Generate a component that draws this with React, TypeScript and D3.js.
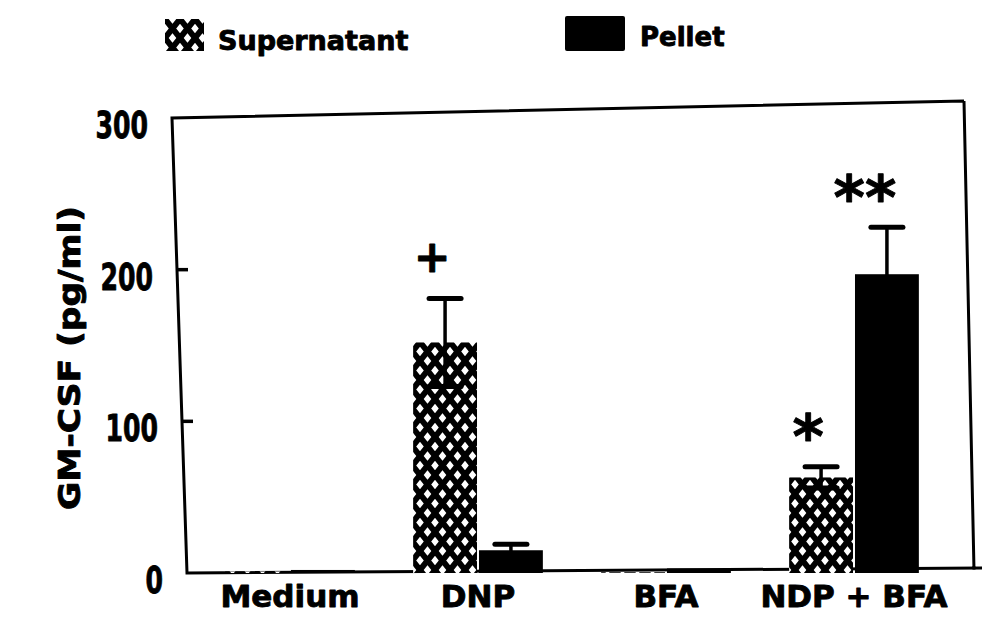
import React, { useEffect, useRef } from "react";
import * as d3 from "d3";

const categories = ["Medium", "DNP", "BFA", "NDP + BFA"];
const seriesNames = ["Supernatant", "Pellet"];
const supernatant = [1, 152, 0.5, 63];
const supernatantErr = [0, 29, 0, 7];
const pellet = [2, 15, 3, 197];
const pelletErr = [0, 4, 0, 31];
const supernatantMarks = ["", "+", "", "*"];
const pelletMarks = ["", "", "", "**"];
const yTicks = [0, 100, 200, 300];

const width = 982;
const height = 626;
const FONT = "'DejaVu Sans', sans-serif";

export default function App() {
  const svgRef = useRef<SVGSVGElement>(null);

  useEffect(() => {
    document.body.style.margin = "0";
    const svg = d3.select(svgRef.current);
    svg.selectAll("*").remove();

    const y = d3.scaleLinear().domain([0, 300]).range([573, 118]);
    const x = d3
      .scaleBand()
      .domain(categories)
      .range([196, 948])
      .paddingInner(0.31)
      .paddingOuter(0.155);
    const xs = d3
      .scaleBand()
      .domain(seriesNames)
      .range([0, x.bandwidth()])
      .paddingInner(0.03);

    // chain-link hatch used for the supernatant bars
    const defs = svg.append("defs");
    const pat = defs
      .append("pattern")
      .attr("id", "net")
      .attr("patternUnits", "userSpaceOnUse")
      .attr("width", 15)
      .attr("height", 19);
    pat.append("rect").attr("width", 15).attr("height", 19).attr("fill", "#fff");
    pat
      .append("path")
      .attr("d", "M-7.5,-9.5L22.5,28.5M22.5,-9.5L-7.5,28.5")
      .attr("stroke", "#000")
      .attr("stroke-width", 5.8);

    const bold = (sel: any, size: number) =>
      sel
        .attr("font-family", FONT)
        .attr("font-weight", "bold")
        .attr("font-size", size)
        .attr("stroke", "#000")
        .attr("stroke-width", 0.9)
        .attr("stroke-linejoin", "round");

    // frame (the scan is slightly skewed)
    const leftX = (yy: number) => 172 + ((yy - 118) / (573 - 118)) * 15;
    svg
      .append("path")
      .attr("d", "M964,101L172,118L187,573L982,568M964,101L974,570")
      .attr("fill", "none")
      .attr("stroke", "#000")
      .attr("stroke-width", 3);

    // y ticks
    yTicks.forEach((t) => {
      const yy = y(t);
      const lx = leftX(yy);
      if (t > 0 && t < 300) {
        svg
          .append("line")
          .attr("x1", lx - 1)
          .attr("x2", lx + 11)
          .attr("y1", yy)
          .attr("y2", yy)
          .attr("stroke", "#000")
          .attr("stroke-width", 3.5);
      }
      const label = String(t);
      bold(
        svg
          .append("text")
          .attr("x", lx - 24)
          .attr("y", yy + 20)
          .attr("text-anchor", "end")
          .attr("textLength", label.length * 17.5)
          .attr("lengthAdjust", "spacingAndGlyphs"),
        38
      ).text(label);
    });

    // y title
    bold(
      svg
        .append("text")
        .attr("transform", "translate(80,358) rotate(-90)")
        .attr("text-anchor", "middle")
        .attr("textLength", 304)
        .attr("lengthAdjust", "spacingAndGlyphs"),
      31
    ).text("GM-CSF (pg/ml)");

    // x labels
    bold(
      svg
        .selectAll(".xlab")
        .data(categories)
        .enter()
        .append("text")
        .attr("x", (d: string) => (x(d) as number) + x.bandwidth() / 2)
        .attr("y", 607)
        .attr("text-anchor", "middle"),
      31
    ).text((d: string) => d);

    const series = [
      { name: "Supernatant", values: supernatant, errs: supernatantErr, marks: supernatantMarks, fill: "url(#net)" },
      { name: "Pellet", values: pellet, errs: pelletErr, marks: pelletMarks, fill: "#000" },
    ];

    series.forEach((s) => {
      const g = svg.append("g");
      categories.forEach((c, i) => {
        const bx = (x(c) as number) + (xs(s.name) as number);
        const bw = xs.bandwidth();
        const cx = bx + bw / 2;
        const v = s.values[i];
        const e = s.errs[i];
        g.append("rect")
          .attr("x", bx)
          .attr("y", y(v))
          .attr("width", bw)
          .attr("height", y(0) - y(v))
          .attr("fill", s.fill);
        if (e > 0) {
          g.append("line")
            .attr("x1", cx)
            .attr("x2", cx)
            .attr("y1", y(v - e))
            .attr("y2", y(v + e))
            .attr("stroke", "#000")
            .attr("stroke-width", 3.5);
          [v - e, v + e].forEach((ev) => {
            g.append("line")
              .attr("x1", cx - 16)
              .attr("x2", cx + 16)
              .attr("y1", y(ev))
              .attr("y2", y(ev))
              .attr("stroke", "#000")
              .attr("stroke-width", 5)
              .attr("stroke-linecap", "round");
          });
        }
        const m = s.marks[i];
        if (m) {
          const cy = y(v + e) - 42;
          const isPlus = m === "+";
          const fs = isPlus ? 44 : 60;
          bold(
            g
              .append("text")
              .attr("x", cx - (m === "**" ? 22 : 13))
              .attr("y", isPlus ? cy + 16 : cy + 0.56 * fs)
              .attr("text-anchor", "middle"),
            fs
          ).text(m);
        }
      });
    });

    // legend
    const legend = svg.append("g");
    legend
      .append("rect")
      .attr("x", 165)
      .attr("y", 19)
      .attr("width", 39)
      .attr("height", 32)
      .attr("fill", "url(#net)");
    bold(legend.append("text").attr("x", 218).attr("y", 50), 27).text("Supernatant");
    legend
      .append("rect")
      .attr("x", 565)
      .attr("y", 16)
      .attr("width", 60)
      .attr("height", 35)
      .attr("rx", 2)
      .attr("fill", "#000");
    bold(legend.append("text").attr("x", 640).attr("y", 46), 26).text("Pellet");
  }, []);

  return (
    <div>
      <svg ref={svgRef} width={width} height={height} style={{ display: "block", background: "#fff" }} />
    </div>
  );
}
